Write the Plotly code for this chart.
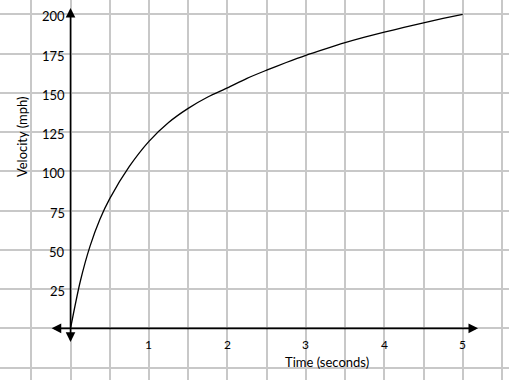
import plotly.graph_objects as go

# Data
time_s = [0, 0.125, 0.25, 0.375, 0.5, 0.75, 1.0, 1.25, 1.5, 1.75, 2.0, 2.25, 2.5, 2.75,
          3.0, 3.25, 3.5, 3.75, 4.0, 4.25, 4.5, 4.75, 5.0]
velocity_mph = [0, 30, 52.5, 69.5, 82.6, 103.1, 119.1, 131.1, 140.1, 147.3, 153.1, 159.2, 164.4, 169.3,
                173.9, 178.0, 181.9, 185.4, 188.6, 191.6, 194.6, 197.35, 200]

x_tick_vals = [1, 2, 3, 4, 5]
x_tick_text = ["1", "2", "3", "4", "5"]
y_tick_vals = [25, 50, 75, 100, 125, 150, 175, 200]
y_tick_text = ["25", "50", "75", "100", "125", "150", "175", "200"]

FONT = "Lato"
fig = go.Figure()
fig.add_trace(go.Scatter(x=time_s, y=velocity_mph, mode="lines",
                         line=dict(color="black", width=1.3, shape="spline", smoothing=0.8),
                         hoverinfo="skip", showlegend=False))

ann = []
# axes with arrowheads
ann.append(dict(x=5.196, y=0, ax=-0.26, ay=0, xref="x", yref="y", axref="x", ayref="y",
                showarrow=True, arrowhead=2, arrowside="end+start", arrowsize=1.2,
                arrowwidth=1.6, arrowcolor="black", text=""))
ann.append(dict(x=0, y=204, ax=0, ay=-9.6, xref="x", yref="y", axref="x", ayref="y",
                showarrow=True, arrowhead=2, arrowside="end+start", arrowsize=1.2,
                arrowwidth=1.6, arrowcolor="black", text=""))
for v, t in zip(x_tick_vals, x_tick_text):
    ann.append(dict(x=v, y=0, xref="x", yref="y", text=t, showarrow=False,
                    yshift=-16, font=dict(family=FONT, size=12, color="black")))
for v, t in zip(y_tick_vals, y_tick_text):
    ann.append(dict(x=0, y=v, xref="x", yref="y", text=t, showarrow=False,
                    xanchor="right", xshift=-4, yshift=-2,
                    font=dict(family=FONT, size=13, color="black")))
ann.append(dict(x=3.27, y=-21.2, xref="x", yref="y", text="Time (seconds)", showarrow=False,
                font=dict(family=FONT, size=13, color="black")))
ann.append(dict(x=-0.618, y=121.8, xref="x", yref="y", text="Velocity (mph)", showarrow=False,
                textangle=-90, font=dict(family=FONT, size=13, color="black")))

fig.update_layout(
    width=509, height=380,
    margin=dict(l=0, r=0, t=0, b=0),
    paper_bgcolor="white", plot_bgcolor="white",
    xaxis=dict(range=[-0.899, 5.59], dtick=0.5, tick0=0, showgrid=True,
               gridcolor="#c8c8c8", gridwidth=1.5, zeroline=False,
               showticklabels=False, showline=False, ticks=""),
    yaxis=dict(range=[-32.9, 209.1], dtick=25, tick0=0, showgrid=True,
               gridcolor="#c8c8c8", gridwidth=1.5, zeroline=False,
               showticklabels=False, showline=False, ticks=""),
    annotations=ann,
)

fig.write_html("out.html", config={"displayModeBar": False},
               post_script="document.body.style.margin='0';document.body.style.overflow='hidden';")
